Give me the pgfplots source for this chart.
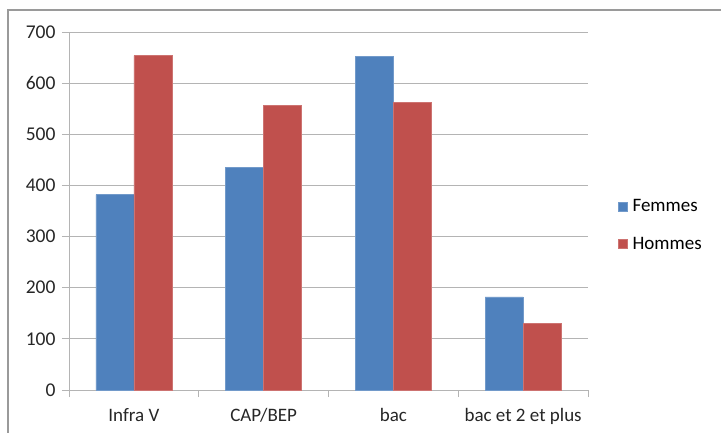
\documentclass[border=0pt]{standalone}
\usepackage{fontspec}
\setmainfont{Carlito}
\usepackage{pgfplots}
\pgfplotsset{compat=1.18}
\definecolor{femmes}{HTML}{4F81BD}
\definecolor{hommes}{HTML}{C0504D}
\definecolor{gridgray}{HTML}{B4B4B4}
\definecolor{framegray}{HTML}{9A9A9A}
\begin{document}
\begin{tikzpicture}[x=1bp,y=1bp]
\useasboundingbox (0,0) rectangle (721,432);
\draw[framegray, line width=1.2bp] (8,-5) rectangle (730,422);
\begin{axis}[
    at={(69bp,42bp)}, anchor=south west,
    scale only axis, width=519bp, height=358bp,
    ymin=0, ymax=700, ytick={0,100,...,700},
    xmin=-0.5, xmax=3.5,
    xtick={-0.5,0.5,...,3.5},
    x tick label as interval,
    xticklabels={Infra V, CAP/BEP, bac, bac et 2 et plus},
    axis x line*=bottom, axis y line*=left,
    axis line style={gridgray, line width=1bp},
    tick style={gridgray, line width=1bp},
    tick align=outside, major tick length=7bp,
    ymajorgrids, grid style={gridgray, line width=1bp},
    ybar=0pt, bar width=38bp,
    ticklabel style={text=black!85},
    xticklabel style={font=\fontsize{19bp}{21bp}\selectfont, yshift=-8bp},
    yticklabel style={font=\fontsize{19.5bp}{21bp}\selectfont, xshift=-3bp},
    /pgf/number format/assume math mode=true,
    legend style={at={(1.052,0.46)}, anchor=west, draw=none, fill=none,
        font=\fontsize{19bp}{21bp}\selectfont, row sep=20bp,
        /tikz/every odd column/.append style={column sep=3bp}},
    legend cell align=left,
    legend image code/.code={\fill[#1] (0bp,-4.5bp) rectangle (9bp,4.5bp);},
]
\addplot[fill=femmes, draw=femmes!80!white] coordinates {(0,382) (1,436) (2,652) (3,182)};
\addplot[fill=hommes, draw=hommes!80!white] coordinates {(0,654) (1,557) (2,562) (3,130)};
\legend{Femmes, Hommes}
\end{axis}
\end{tikzpicture}
\end{document}
